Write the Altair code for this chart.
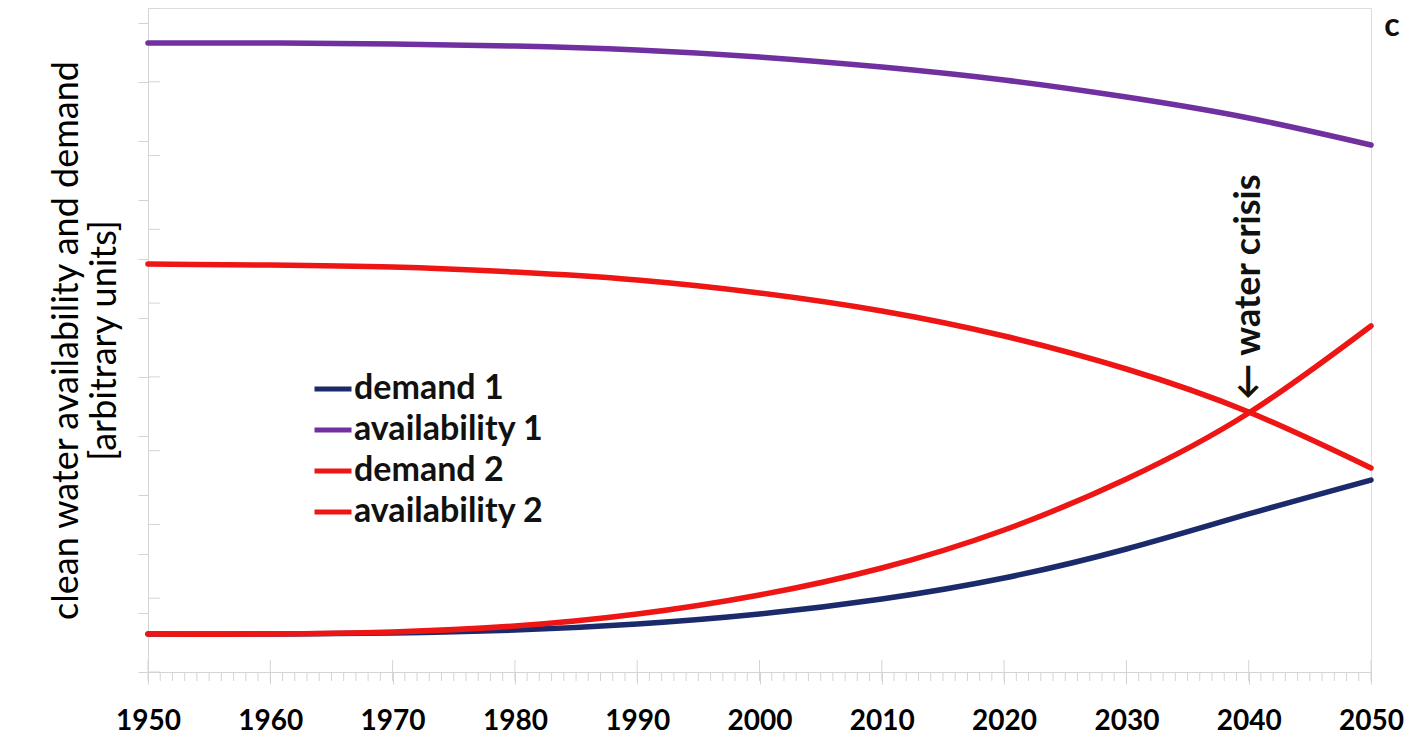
import altair as alt
import pandas as pd

years = [1950, 1960, 1970, 1980, 1990, 2000, 2010, 2020, 2030, 2040, 2050]
demand_1 = [0.515, 0.515, 0.529, 0.569, 0.651, 0.786, 0.989, 1.274, 1.667, 2.142, 2.602]
availability_1 = [8.525, 8.525, 8.512, 8.485, 8.431, 8.336, 8.200, 8.024, 7.793, 7.509, 7.143]
demand_2 = [0.515, 0.515, 0.542, 0.623, 0.786, 1.044, 1.410, 1.925, 2.616, 3.510, 4.690]
availability_2 = [5.530, 5.516, 5.489, 5.421, 5.313, 5.137, 4.893, 4.554, 4.107, 3.524, 2.765]

series_names = ["demand 1", "availability 1", "demand 2", "availability 2"]
series_colors = ["#1B2A6B", "#7030A0", "#EE1515", "#EE1515"]
series_values = [demand_1, availability_1, demand_2, availability_2]

y_major = list(range(0, 10))
y_minor = [round(i * 0.2, 1) for i in range(0, 46)]
x_major = list(range(1950, 2051, 10))
x_minor = list(range(1950, 2051))

annot_year = 2040
annot_value = 3.69
annot_text = "\u2190  water crisis"
panel_label = "c"

FONT = "Lato"
W, H = 1223, 664
GRID = "#d4d4d4"

rows = []
for name, vals in zip(series_names, series_values):
    for yr, v in zip(years, vals):
        rows.append({"year": yr, "value": v, "series": name, "order": series_names.index(name)})
df = pd.DataFrame(rows)

xscale = alt.Scale(domain=[1950, 2050], nice=False, zero=False)
yscale = alt.Scale(domain=[0, 9], nice=False, zero=False)

xaxis = alt.Axis(values=x_major, format="d", labelFont=FONT, labelFontSize=28, labelFontWeight="bold",
                 labelColor="black", labelPadding=23, tickSize=12, tickColor=GRID,
                 domainColor=GRID, grid=False, title=None, labelFlush=False, labelOverlap=False)
yaxis = alt.Axis(values=y_minor, labels=False, tickSize=10, tickColor=GRID, domainColor=GRID,
                 grid=False, title=["clean water availability and demand", "[arbitrary units]"],
                 titleFont=FONT, titleFontSize=36, titleFontWeight="normal", titleColor="black",
                 titlePadding=14, titleLineHeight=38)

lines = alt.Chart(df).mark_line(strokeWidth=5.5, interpolate="natural", strokeCap="round").encode(
    x=alt.X("year:Q", scale=xscale, axis=xaxis),
    y=alt.Y("value:Q", scale=yscale, axis=yaxis),
    color=alt.Color("series:N", scale=alt.Scale(domain=series_names, range=series_colors),
                    sort=series_names,
                    legend=alt.Legend(orient="none", legendX=164, legendY=360, title=None,
                                      symbolType="stroke", symbolSize=1369, symbolStrokeWidth=5,
                                      labelFont=FONT, labelFontSize=34, labelFontWeight="bold",
                                      labelColor="#111", labelOffset=0, rowPadding=3, labelLimit=500)),
    order="order:Q",
    detail="series:N",
)

ymaj = alt.Chart(pd.DataFrame({"v": y_major})).mark_rule(color=GRID, strokeWidth=1).encode(
    y=alt.Y("v:Q", scale=yscale), x=alt.value(0), x2=alt.value(12))
xmaj = alt.Chart(pd.DataFrame({"yr": x_major})).mark_rule(color=GRID, strokeWidth=1).encode(
    x=alt.X("yr:Q", scale=xscale), y=alt.value(H), y2=alt.value(H - 12))
xmin = alt.Chart(pd.DataFrame({"yr": x_minor})).mark_rule(color=GRID, strokeWidth=1).encode(
    x=alt.X("yr:Q", scale=xscale), y=alt.value(H), y2=alt.value(H + 9))

annot = alt.Chart(pd.DataFrame({"year": [annot_year], "value": [annot_value], "t": [annot_text]})).mark_text(
    angle=270, align="left", baseline="middle", font=FONT, fontSize=36, fontWeight="bold", color="#111"
).encode(x=alt.X("year:Q", scale=xscale), y=alt.Y("value:Q", scale=yscale), text="t:N")

label = alt.Chart(pd.DataFrame({"t": [panel_label]})).mark_text(
    font=FONT, fontSize=32, fontWeight="bold", color="#111", align="center", baseline="middle"
).encode(x=alt.value(W + 21), y=alt.value(18), text="t:N")

chart = alt.layer(ymaj, xmaj, xmin, lines, annot, label).properties(
    width=W, height=H, autosize=alt.AutoSizeParams(type="none"),
    padding={"left": 140, "top": 0, "right": 35, "bottom": 75},
).configure_view(stroke=None).configure(background="white")

chart.save("out.html", embed_options={"renderer": "svg", "actions": False})
